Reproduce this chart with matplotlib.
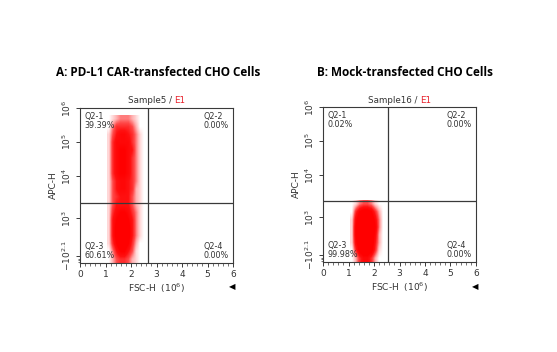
import numpy as np
import matplotlib
matplotlib.use("Agg")
import matplotlib.pyplot as plt
from matplotlib.colors import LinearSegmentedColormap

plt.rcParams['mathtext.default'] = 'regular'

# ---------------- data ----------------
panel_titles = ["A: PD-L1 CAR-transfected CHO Cells", "B: Mock-transfected CHO Cells"]
sample_names = ["Sample5", "Sample16"]
gate_name = "E1"
quad_names = ["Q2-1", "Q2-2", "Q2-3", "Q2-4"]
quad_pct_A = ["39.39%", "0.00%", "60.61%", "0.00%"]
quad_pct_B = ["0.02%", "0.00%", "99.98%", "0.00%"]
x_gate = [2.67, 2.55]          # FSC-H (10^6)
y_gate = [387, 394]            # display channel (0-1000)
x_ticks = [0, 1, 2, 3, 4, 5, 6]
y_tick_pos = [45, 290, 561, 781, 1000]
y_tick_labels = ["$-10^{2.1}$", "$10^3$", "$10^4$", "$10^5$", "$10^6$"]

# density grid (estimated event density), columns: FSC-H bins 1.05..2.55 step 0.15
x_edges = [1.05, 2.55]
# rows top (channel 950) to bottom (channel 0), 50 channel each
density_A = [
    [0, 1, 2, 3, 3, 3, 2, 1, 0, 0],
    [0, 3, 5, 5, 5, 5, 4, 2, 0, 0],
    [1, 4, 6, 7, 7, 6, 5, 3, 1, 0],
    [1, 5, 7, 7, 7, 7, 5, 3, 1, 0],
    [1, 5, 7, 8, 8, 7, 6, 3, 1, 0],
    [1, 5, 7, 8, 8, 7, 5, 3, 1, 0],
    [1, 5, 7, 8, 8, 7, 5, 3, 1, 0],
    [1, 5, 7, 8, 8, 7, 5, 3, 1, 0],
    [1, 4, 6, 7, 7, 6, 5, 3, 1, 0],
    [1, 4, 6, 7, 7, 6, 5, 2, 1, 0],
    [1, 4, 5, 6, 6, 6, 4, 2, 1, 0],
    [1, 4, 6, 6, 6, 6, 4, 2, 1, 0],
    [1, 5, 7, 8, 8, 7, 5, 3, 1, 0],
    [1, 6, 8, 9, 9, 8, 6, 3, 1, 0],
    [1, 6, 9, 10, 10, 9, 6, 3, 1, 0],
    [1, 6, 9, 10, 10, 9, 6, 3, 1, 0],
    [1, 5, 8, 10, 10, 8, 5, 2, 0, 0],
    [0, 3, 6, 8, 8, 6, 4, 1, 0, 0],
    [0, 2, 4, 5, 5, 4, 2, 1, 0, 0],
]
y_top_A = 950
# rows top (channel 400) to bottom (channel 0)
density_B = [
    [0, 1, 3, 4, 4, 3, 1, 0, 0, 0],
    [0, 5, 8, 9, 9, 8, 5, 2, 0, 0],
    [1, 7, 10, 10, 10, 10, 7, 3, 0, 0],
    [1, 8, 10, 10, 10, 10, 8, 3, 0, 0],
    [1, 8, 10, 10, 10, 10, 7, 2, 0, 0],
    [1, 7, 10, 10, 10, 10, 6, 2, 0, 0],
    [0, 5, 9, 10, 10, 9, 5, 1, 0, 0],
    [0, 2, 5, 7, 7, 5, 2, 0, 0, 0],
]
y_top_B = 400

# ---------------- figure ----------------
fig = plt.figure(figsize=(5.57, 3.52), dpi=100)
W, H = 557, 352
cmap = LinearSegmentedColormap.from_list("wr", ["#ffffff", "#ffb0b0", "#ff4a4a", "#ff1010", "#ff0000"])

panels = [
    dict(box=(80, 108, 233, 263), title_x=158, dens=density_A, ytop=y_top_A,
         pct=quad_pct_A, sample=sample_names[0], xg=x_gate[0], yg=y_gate[0], title=panel_titles[0]),
    dict(box=(323, 107, 476, 262), title_x=405, dens=density_B, ytop=y_top_B,
         pct=quad_pct_B, sample=sample_names[1], xg=x_gate[1], yg=y_gate[1], title=panel_titles[1]),
]

grey = "#3a3a3a"
fig.canvas.draw()
renderer = fig.canvas.get_renderer()
for p in panels:
    l, t, r, b = p["box"]
    ax = fig.add_axes([l / W, 1 - b / H, (r - l) / W, (b - t) / H])
    ax.set_xlim(0, 6)
    ax.set_ylim(0, 1000)
    d = np.array(p["dens"], dtype=float)
    ax.imshow(d, extent=[x_edges[0], x_edges[1], 0, p["ytop"]], cmap=cmap, vmin=0, vmax=8,
              interpolation="bilinear", aspect="auto", zorder=1)
    ax.axvline(p["xg"], color=grey, lw=0.9, zorder=3)
    ax.axhline(p["yg"], color=grey, lw=0.9, zorder=3)
    for s in ax.spines.values():
        s.set_color(grey)
        s.set_linewidth(0.8)
    ax.set_xticks(x_ticks)
    ax.set_xticks(np.arange(0, 6.01, 0.2), minor=True)
    ax.set_yticks(y_tick_pos)
    ax.set_yticklabels(y_tick_labels, rotation=90, va="center")
    ax.set_yticks([8, 18, 28], minor=True)
    ax.tick_params(axis="both", which="major", length=3, width=0.7, color=grey,
                   labelsize=6.5, labelcolor="#333333", pad=2)
    ax.tick_params(axis="both", which="minor", length=1.8, width=0.5, color=grey)
    ax.set_xlabel("FSC-H  ($10^6$)", fontsize=6.5, color="#333333", labelpad=2)
    ax.set_ylabel("APC-H", fontsize=6.5, color="#333333", labelpad=2)
    # quadrant labels
    fs = 5.8
    tc = "#333333"
    ax.text(0.03, 0.975, quad_names[0] + "\n" + p["pct"][0], transform=ax.transAxes,
            ha="left", va="top", fontsize=fs, color=tc, linespacing=1.0)
    ax.text(0.97, 0.975, quad_names[1] + "\n" + p["pct"][1], transform=ax.transAxes,
            ha="right", va="top", fontsize=fs, color=tc, linespacing=1.0, multialignment="left")
    ax.text(0.03, 0.02, quad_names[2] + "\n" + p["pct"][2], transform=ax.transAxes,
            ha="left", va="bottom", fontsize=fs, color=tc, linespacing=1.0)
    ax.text(0.97, 0.02, quad_names[3] + "\n" + p["pct"][3], transform=ax.transAxes,
            ha="right", va="bottom", fontsize=fs, color=tc, linespacing=1.0, multialignment="left")
    # sample header, centred as a whole
    cx = (l + r) / 2
    t1 = fig.text(0, 1 - 100 / H, p["sample"] + " / ", ha="left", va="center", fontsize=6.3, color="#333333")
    t2 = fig.text(0, 1 - 100 / H, gate_name, ha="left", va="center", fontsize=6.3, color="#e8202a")
    w1 = t1.get_window_extent(renderer).width
    w2 = t2.get_window_extent(renderer).width
    x0 = cx - (w1 + w2) / 2
    t1.set_x(x0 / W)
    t2.set_x((x0 + w1) / W)
    # triangle marker
    fig.text((r - 1) / W, 1 - 287 / H, "\u25C0", ha="center", va="center", fontsize=6, color="black")
    # panel title
    fig.text(p["title_x"] / W, 1 - 72 / H, p["title"], ha="center", va="center",
             fontsize=8.5, fontweight="bold", family="Open Sans", color="black")

fig.savefig("out.png", dpi=100)
